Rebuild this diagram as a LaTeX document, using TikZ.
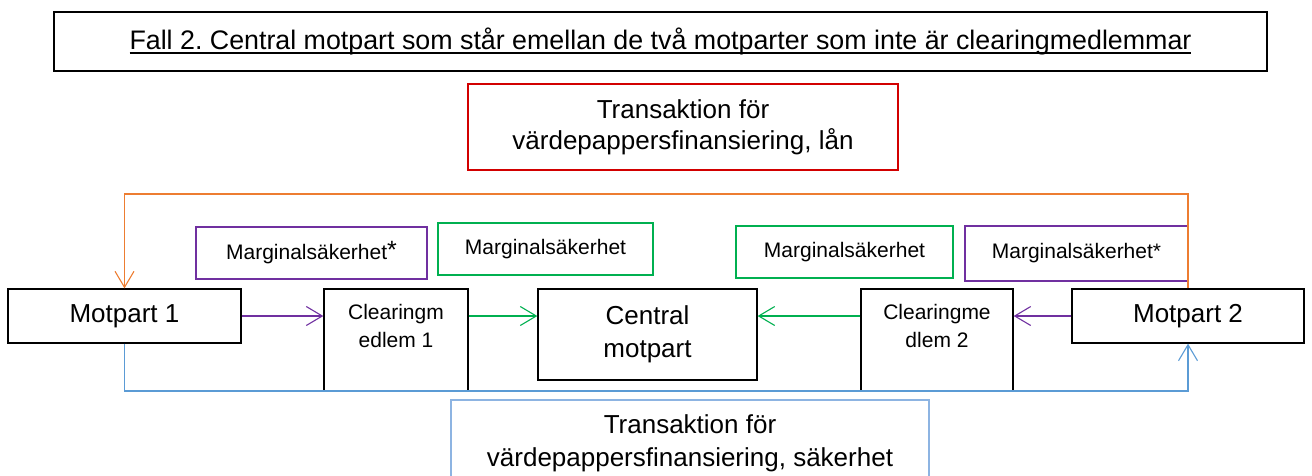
\documentclass[tikz,border=0pt]{standalone}
\usepackage{fontspec}
\setmainfont{Liberation Sans}
\usetikzlibrary{arrows.meta}
\definecolor{cOrange}{RGB}{237,125,49}
\definecolor{cBlue}{RGB}{91,155,213}
\definecolor{cBlueBox}{RGB}{141,180,226}
\definecolor{cPurple}{RGB}{112,48,160}
\definecolor{cGreen}{RGB}{0,176,80}
\definecolor{cRed}{RGB}{210,0,0}
\newcommand\titleul[1]{\setbox0\hbox{#1}\rlap{\rule[-4pt]{\wd0}{1.3pt}}\box0}
\frenchspacing
\begin{document}
\begin{tikzpicture}[x=1pt,y=-1pt,
  box/.style={draw, rectangle, inner sep=0pt, line width=1.3pt, align=center},
  cbox/.style={draw, rectangle, inner sep=0pt, line width=1.2pt, align=center},
  big/.style={font=\fontsize{26}{33}\selectfont},
  titlefont/.style={font=\fontsize{26.8}{33}\selectfont},
  small/.style={font=\fontsize{21}{28}\selectfont},
  conn/.style={line width=1.1pt, -{Straight Barb[length=16pt,width=19pt]}},
]
\useasboundingbox (0,0) rectangle (1312,475);

% title
\node[box, titlefont, minimum width=1213pt, minimum height=59pt] (title) at (660.5,41.5)
  {\raisebox{1.5pt}{\titleul{Fall 2. Central motpart som står emellan de två motparter som inte är clearingmedlemmar}}};

% transaction boxes
\node[cbox, draw=cRed, big, minimum width=430pt, minimum height=86pt] (loan) at (683,127)
  {\raisebox{-2pt}{Transaktion för}\\värdepappersfinansiering, lån};
\node[cbox, draw=cBlueBox, big, minimum width=478pt, minimum height=86pt] (coll) at (690,443)
  {Transaktion för\\värdepappersfinansiering, säkerhet};

% main nodes
\node[box, big, minimum width=233pt, minimum height=54pt] (m1) at (124.5,316) {Motpart 1};
\node[box, big, minimum width=232pt, minimum height=54pt] (m2) at (1188,316) {Motpart 2};
\node[box, minimum width=144pt, minimum height=102pt,
  label={[anchor=north, small, align=center, inner sep=0pt, yshift=-16pt]north:{Clearingm\\edlem 1}}] (c1) at (396,340) {};
\node[box, minimum width=152pt, minimum height=102pt,
  label={[anchor=north, small, align=center, inner sep=0pt, yshift=-16pt]north:{Clearingme\\dlem 2}}] (c2) at (937,340) {};
\node[box, big, minimum width=219pt, minimum height=91pt] (ccp) at (647.5,334.5) {Central\\motpart};

% margin boxes
\node[cbox, draw=cPurple, small, minimum width=231pt, minimum height=52pt] (p1) at (311.5,253)
  {Marginalsäkerhet\raisebox{1pt}{\fontsize{25}{28}\selectfont*}};
\node[cbox, draw=cGreen, small, minimum width=215pt, minimum height=52pt] (g1) at (545.5,249) {Marginalsäkerhet};
\node[cbox, draw=cGreen, small, minimum width=217pt, minimum height=52pt] (g2) at (844.5,252) {Marginalsäkerhet};
\node[cbox, draw=cPurple, small, minimum width=223pt, minimum height=55pt] (p2) at (1076.5,253.5) {Marginalsäkerhet*};

% connectors
\coordinate (otop) at (0,194);
\coordinate (bbot) at (0,391);
\draw[conn, cOrange] (m2.north) -- (m2.north |- otop) -| (m1.north);
\draw[conn, cBlue] (m1.south) -- (m1.south |- bbot) -| (m2.south);
\draw[conn, cPurple] (m1.east) -- (c1.west |- m1.east);
\draw[conn, cGreen] (c1.east |- m1.east) -- (ccp.west |- m1.east);
\draw[conn, cGreen] (c2.west |- m2.west) -- (ccp.east |- m2.west);
\draw[conn, cPurple] (m2.west) -- (c2.east |- m2.west);
\end{tikzpicture}
\end{document}
